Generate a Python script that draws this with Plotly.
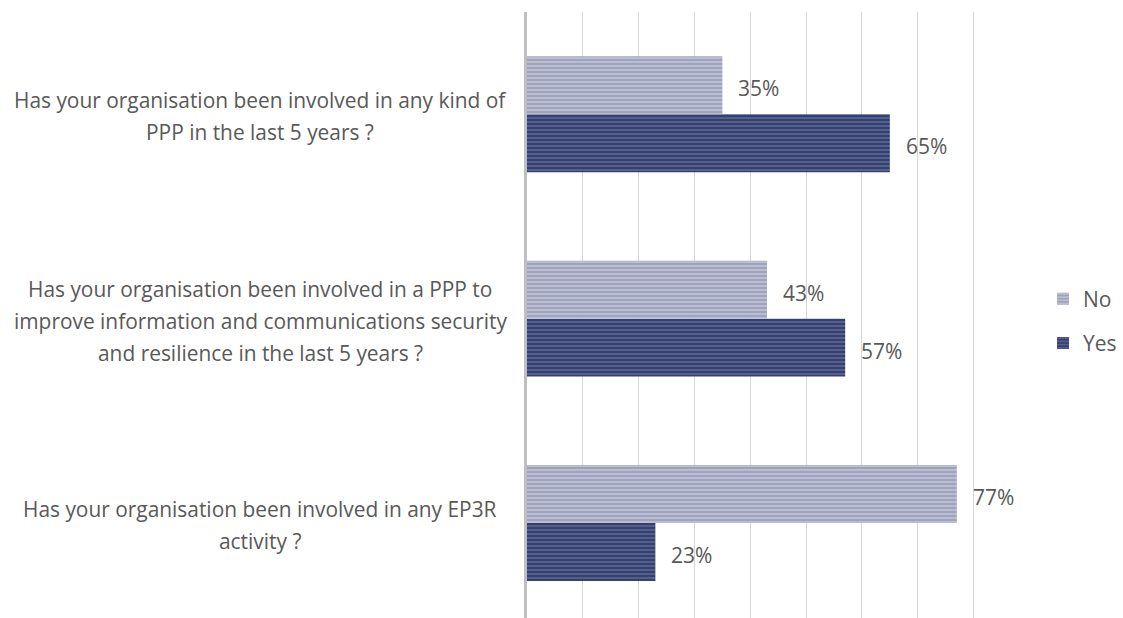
import plotly.graph_objects as go

# ---- data ----
categories = [
    "Has your organisation been involved in any EP3R<br>activity ?",
    "Has your organisation been involved in a PPP to<br>improve information and communications security<br>and resilience in the last 5 years ?",
    "Has your organisation been involved in any kind of<br>PPP in the last 5 years ?",
]
yes_values = [0.23, 0.57, 0.65]
no_values = [0.77, 0.43, 0.35]
series_names = ["Yes", "No"]

FONT = "Open Sans"
TXT = "#595959"

fig = go.Figure()
fig.add_trace(go.Bar(
    y=categories, x=yes_values, name=series_names[0], orientation="h",
    marker=dict(color="#34406f", line=dict(width=0),
                pattern=dict(shape="-", fgcolor="#a3a9c9", size=4, solidity=0.3)),
    legendgroup="yes", legendrank=2, hoverinfo="x",
))
fig.add_trace(go.Bar(
    y=categories, x=no_values, name=series_names[1], orientation="h",
    marker=dict(color="#9fa3bd", line=dict(width=0),
                pattern=dict(shape="-", fgcolor="#e2e3ec", size=4, solidity=0.4)),
    legendgroup="no", legendrank=1, hoverinfo="x",
))

annotations = []
# data labels
for cat, v in zip(categories, yes_values):
    annotations.append(dict(x=v, y=cat, xref="x", yref="y", text=f"{round(v*100)}%",
                            showarrow=False, xanchor="left", xshift=14, yshift=-32,
                            font=dict(family=FONT, size=21, color=TXT)))
for cat, v in zip(categories, no_values):
    annotations.append(dict(x=v, y=cat, xref="x", yref="y", text=f"{round(v*100)}%",
                            showarrow=False, xanchor="left", xshift=14, yshift=26,
                            font=dict(family=FONT, size=21, color=TXT)))
# category labels, centered multi-line
for cat in categories:
    lines = cat.split("<br>")
    n = len(lines)
    for i, ln in enumerate(lines):
        annotations.append(dict(x=-0.5328, y=cat, xref="paper", yref="y", text=ln,
                                showarrow=False, xanchor="center", yanchor="middle",
                                yshift=((n - 1) / 2 - i) * 32 - 2,
                                font=dict(family=FONT, size=20.9, color=TXT)))

fig.update_layout(
    width=1123, height=618,
    margin=dict(l=527, r=95, t=12, b=0),
    paper_bgcolor="white", plot_bgcolor="white",
    barmode="group", bargap=0.433, bargroupgap=0,
    showlegend=True,
    legend=dict(x=1.03, y=0.49, xanchor="left", yanchor="middle",
                traceorder="grouped", tracegroupgap=14,
                font=dict(family=FONT, size=21, color=TXT),
                bgcolor="rgba(0,0,0,0)"),
    annotations=annotations,
    font=dict(family=FONT, color=TXT),
)
fig.update_xaxes(range=[0, 0.8975], dtick=0.1, tick0=0, showgrid=True,
                 gridcolor="#d6d6d6", gridwidth=1, showticklabels=False,
                 zeroline=False, showline=False, ticks="")
fig.update_yaxes(range=[-0.4645, 2.5], showgrid=False, showticklabels=False,
                 showline=True, linecolor="#bfbfbf", linewidth=3, ticks="",
                 zeroline=False)

fig.write_html("out.html")
